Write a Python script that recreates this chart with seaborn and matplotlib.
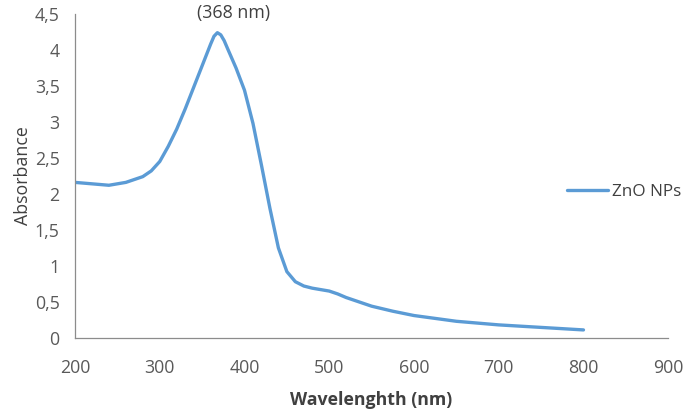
import numpy as np
import pandas as pd
import matplotlib
matplotlib.use('Agg')
import matplotlib.pyplot as plt
from matplotlib.ticker import FuncFormatter, MultipleLocator
import seaborn as sns

# values
wavelength = [200, 220, 240, 260, 280, 290, 300, 310, 320, 330, 340, 350, 360, 364, 368,
              372, 376, 380, 390, 400, 410, 420, 430, 440, 450, 460, 470, 480, 490, 500,
              510, 520, 530, 550, 575, 600, 650, 700, 750, 800]
absorbance = [2.16, 2.14, 2.12, 2.16, 2.24, 2.32, 2.45, 2.66, 2.90, 3.18, 3.48, 3.78, 4.08, 4.19, 4.24,
              4.21, 4.13, 4.02, 3.75, 3.44, 2.98, 2.40, 1.80, 1.25, 0.92, 0.78, 0.72, 0.69, 0.67, 0.65,
              0.61, 0.56, 0.52, 0.44, 0.37, 0.31, 0.23, 0.18, 0.145, 0.11]
series_name = 'ZnO NPs'
peak_label = '(368 nm)'
peak_nm = 368

df = pd.DataFrame({'Wavelength': wavelength, 'Absorbance': absorbance})

sns.set_style('white')
plt.rcParams['font.family'] = ['Open Sans', 'DejaVu Sans']

fs = 12.8
fig = plt.figure(figsize=(6.85, 4.11), dpi=100)
ax = fig.add_axes([0.1095, 0.178, 0.866, 0.788])

sns.lineplot(data=df, x='Wavelength', y='Absorbance', ax=ax, color='#5B9BD5',
             linewidth=2.4, label=series_name)

ax.set_xlim(200, 900)
ax.set_ylim(0, 4.5)
ax.xaxis.set_major_locator(MultipleLocator(100))
ax.yaxis.set_major_locator(MultipleLocator(0.5))
ax.yaxis.set_major_formatter(FuncFormatter(lambda v, p: '{:g}'.format(v).replace('.', ',')))

grey = '#8C8C8C'
for s in ['top', 'right']:
    ax.spines[s].set_visible(False)
for s in ['left', 'bottom']:
    ax.spines[s].set_color(grey)
    ax.spines[s].set_linewidth(0.9)
ax.tick_params(axis='both', which='major', direction='out', length=4, width=0.9,
               color=grey, labelcolor='#595959', labelsize=fs)
ax.tick_params(axis='y', pad=7)
ax.tick_params(axis='x', pad=11)

ax.set_xlabel('Wavelenghth (nm)', fontsize=fs, fontweight='bold', color='#404040', labelpad=10)
ax.set_ylabel('Absorbance', fontsize=fs, color='#404040', labelpad=2)

peak_y = df.loc[df['Wavelength'] == peak_nm, 'Absorbance'].iloc[0]
ax.annotate(peak_label, xy=(peak_nm, peak_y), xytext=(12, 14.5), textcoords='offset points',
            ha='center', va='center', fontsize=fs, color='#404040', annotation_clip=False)

ax.legend(loc='center left', bbox_to_anchor=(0.83, 0.45), frameon=False,
          borderpad=0, borderaxespad=0, fontsize=12.3, handlelength=2.35,
          handletextpad=0.25, labelcolor='#404040')

fig.savefig('out.png', dpi=100)
